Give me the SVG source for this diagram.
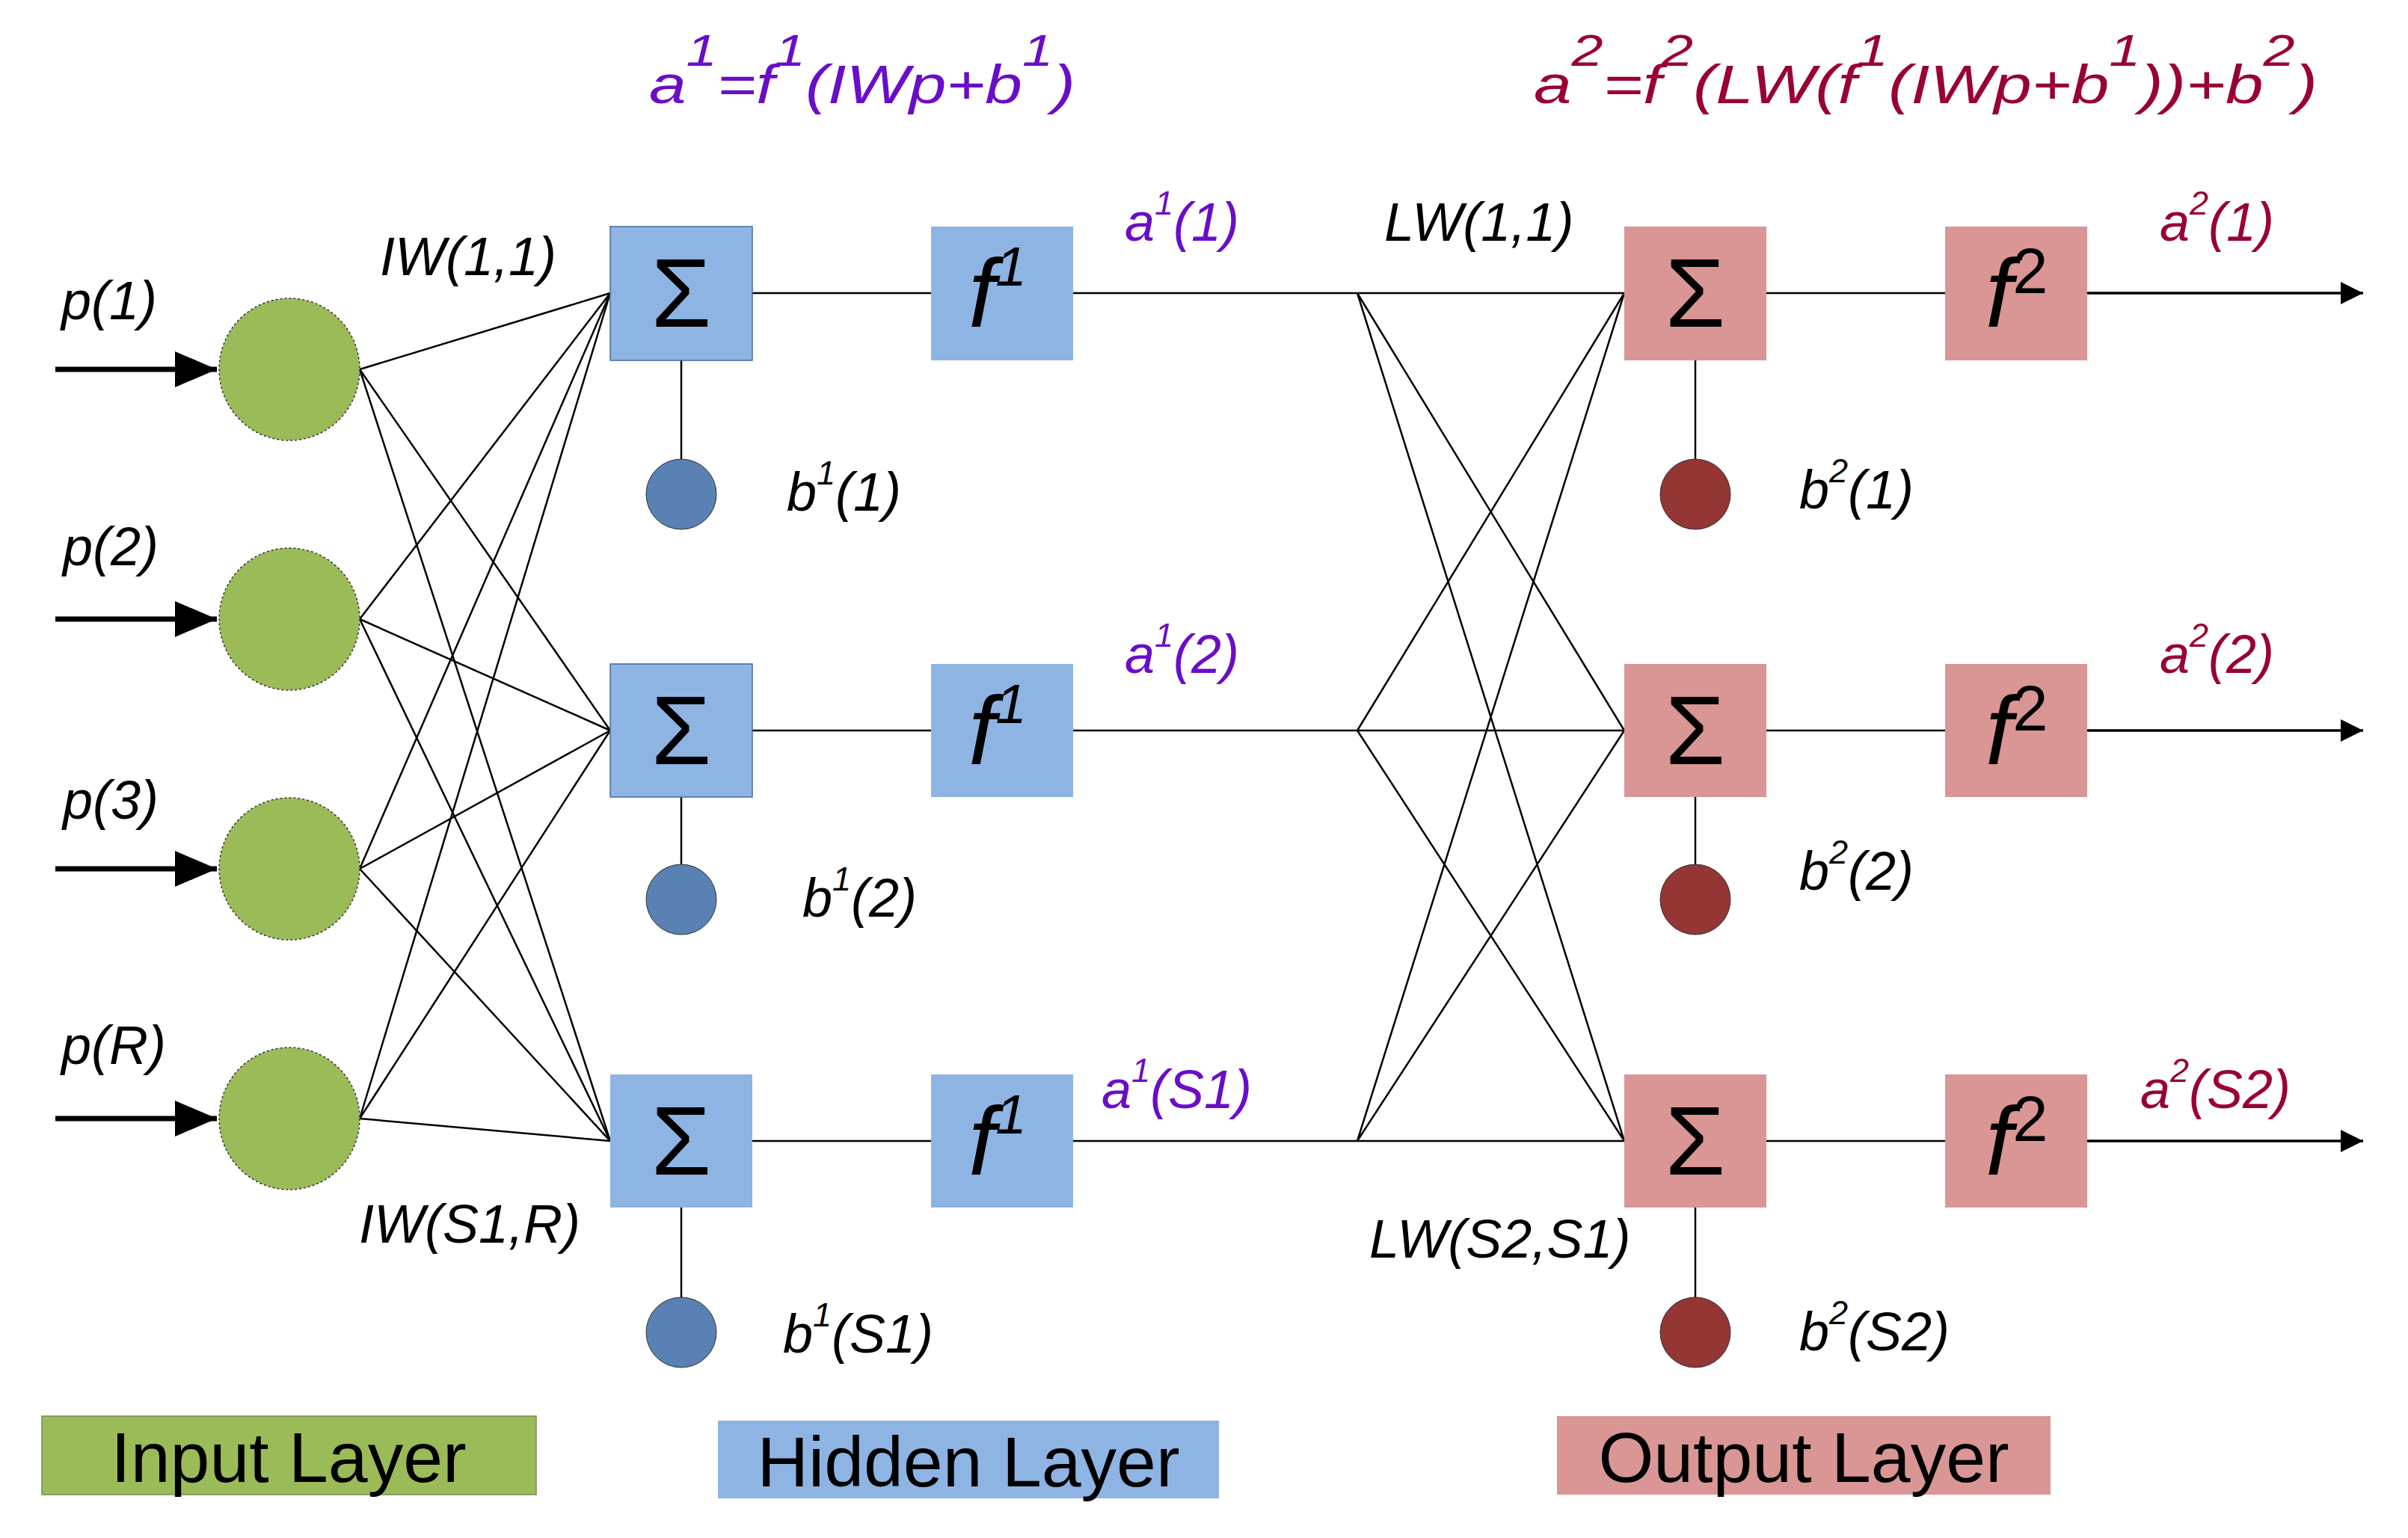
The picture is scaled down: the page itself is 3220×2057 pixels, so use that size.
<svg xmlns="http://www.w3.org/2000/svg" width="3220" height="2057" viewBox="0 0 3220 2057">
<style>
text{font-family:"Liberation Sans",Arial,sans-serif}
.lbl{font-size:72px;font-style:italic;fill:#000}
.pu{fill:#6a0dc8}
.rd{fill:#990033}
.sig{font-size:130px;text-anchor:middle;fill:#000}
.fx{font-size:130px;font-style:italic;fill:#000}
.leg{font-size:95px;text-anchor:middle;fill:#000}
.w{stroke:#000;stroke-width:2.5;fill:none}
.hb{fill:#8eb4e3}
.ob{fill:#d99694}
.in{fill:#9bbb59;stroke:#333;stroke-width:1.5;stroke-dasharray:3 3}
</style>
<defs>
<marker id="ah" viewBox="0 0 10 10" refX="10" refY="5" markerWidth="9" markerHeight="9" orient="auto" markerUnits="userSpaceOnUse"><path d="M0,0L10,5L0,10z" fill="#000"/></marker>
<marker id="ahb" viewBox="0 0 10 10" refX="10" refY="5" markerWidth="56" markerHeight="48" orient="auto" markerUnits="userSpaceOnUse" preserveAspectRatio="none"><path d="M0,0L10,5L0,10z" fill="#000"/></marker>
<marker id="ahs" viewBox="0 0 10 10" refX="10" refY="5" markerWidth="30" markerHeight="30" orient="auto" markerUnits="userSpaceOnUse"><path d="M0,0L10,5L0,10z" fill="#000"/></marker>
</defs>
<g id="connectors">
<path d="M74 494H290M74 828H290M74 1162H290M74 1496H290" style="stroke:#000;stroke-width:7;fill:none"/>
<line x1="230" y1="494" x2="290" y2="494" stroke="#000" stroke-width="1" marker-end="url(#ahb)"/>
<line x1="230" y1="828" x2="290" y2="828" stroke="#000" stroke-width="1" marker-end="url(#ahb)"/>
<line x1="230" y1="1162" x2="290" y2="1162" stroke="#000" stroke-width="1" marker-end="url(#ahb)"/>
<line x1="230" y1="1496" x2="290" y2="1496" stroke="#000" stroke-width="1" marker-end="url(#ahb)"/>
<g class="w">
<path d="M481 494L816 392M481 494L816 977M481 494L816 1526"/>
<path d="M481 828L816 392M481 828L816 977M481 828L816 1526"/>
<path d="M481 1162L816 392M481 1162L816 977M481 1162L816 1526"/>
<path d="M481 1496L816 392M481 1496L816 977M481 1496L816 1526"/>
<path d="M1006 392H1245M1006 977H1245M1006 1526H1245"/>
<path d="M1435 392H2172M1435 977H2172M1435 1526H2172"/>
<path d="M1815 392L2172 977M1815 392L2172 1526M1815 977L2172 392M1815 977L2172 1526M1815 1526L2172 392M1815 1526L2172 977"/>
<path d="M911 482V614M911 1066V1156M911 1615V1735"/>
<path d="M2267 482V614M2267 1066V1156M2267 1615V1735"/>
<path d="M2362 392H2601M2362 977H2601M2362 1526H2601"/>
</g>
<line x1="2791" y1="392" x2="3160" y2="392" style="stroke:#000;stroke-width:3.5" marker-end="url(#ahs)"/>
<line x1="2791" y1="977" x2="3160" y2="977" style="stroke:#000;stroke-width:3.5" marker-end="url(#ahs)"/>
<line x1="2791" y1="1526" x2="3160" y2="1526" style="stroke:#000;stroke-width:3.5" marker-end="url(#ahs)"/>
</g>
<g id="inputs">
<ellipse class="in" cx="387" cy="494" rx="94" ry="95"/>
<ellipse class="in" cx="387" cy="828" rx="94" ry="95"/>
<ellipse class="in" cx="387" cy="1162" rx="94" ry="95"/>
<ellipse class="in" cx="387" cy="1496" rx="94" ry="95"/>
<text class="lbl" x="82" y="427">p(1)</text>
<text class="lbl" x="84" y="756">p(2)</text>
<text class="lbl" x="84" y="1095">p(3)</text>
<text class="lbl" x="82" y="1423">p(R)</text>
<text class="lbl" x="508" y="368">IW(1,1)</text>
<text class="lbl" x="480" y="1662">IW(S1,R)</text>
</g>
<g id="hidden">
<rect class="hb" x="816" y="303" width="190" height="179" stroke="#4a6a9a" stroke-width="1.5"/>
<rect class="hb" x="816" y="888" width="190" height="178" stroke="#4a6a9a" stroke-width="1.5"/>
<rect class="hb" x="816" y="1437" width="190" height="178"/>
<rect class="hb" x="1245" y="303" width="190" height="179"/>
<rect class="hb" x="1245" y="888" width="190" height="178"/>
<rect class="hb" x="1245" y="1437" width="190" height="178"/>
<text class="sig" x="911" y="437">Σ</text><text class="sig" x="911" y="1022">Σ</text><text class="sig" x="911" y="1571">Σ</text>
<text class="fx" x="1295" y="437">f<tspan font-size="75" dy="-55">1</tspan></text>
<text class="fx" x="1295" y="1022">f<tspan font-size="75" dy="-55">1</tspan></text>
<text class="fx" x="1295" y="1571">f<tspan font-size="75" dy="-55">1</tspan></text>
<ellipse cx="911" cy="661" rx="47" ry="47" fill="#5981b3" stroke="#333" stroke-width="1"/>
<ellipse cx="911" cy="1203" rx="47" ry="47" fill="#5981b3" stroke="#333" stroke-width="1"/>
<ellipse cx="911" cy="1782" rx="47" ry="47" fill="#5981b3" stroke="#333" stroke-width="1"/>
<text class="lbl" x="1052" y="683">b<tspan font-size="45" dy="-35">1</tspan><tspan dy="35">(1)</tspan></text>
<text class="lbl" x="1073" y="1226">b<tspan font-size="45" dy="-35">1</tspan><tspan dy="35">(2)</tspan></text>
<text class="lbl" x="1047" y="1809">b<tspan font-size="45" dy="-35">1</tspan><tspan dy="35">(S1)</tspan></text>
<text class="lbl pu" x="1504" y="322">a<tspan font-size="45" dy="-35">1</tspan><tspan dy="35">(1)</tspan></text>
<text class="lbl pu" x="1504" y="900">a<tspan font-size="45" dy="-35">1</tspan><tspan dy="35">(2)</tspan></text>
<text class="lbl pu" x="1473" y="1482">a<tspan font-size="45" dy="-35">1</tspan><tspan dy="35">(S1)</tspan></text>
<text class="lbl pu" x="868" y="138" font-size="108" textLength="570" lengthAdjust="spacingAndGlyphs">a<tspan font-size="60" dy="-50">1</tspan><tspan dy="50">=f</tspan><tspan font-size="60" dy="-50">1</tspan><tspan dy="50">(IWp+b</tspan><tspan font-size="60" dy="-50">1</tspan><tspan dy="50">)</tspan></text>
</g>
<g id="output">
<rect class="ob" x="2172" y="303" width="190" height="179"/>
<rect class="ob" x="2172" y="888" width="190" height="178"/>
<rect class="ob" x="2172" y="1437" width="190" height="178"/>
<rect class="ob" x="2601" y="303" width="190" height="179"/>
<rect class="ob" x="2601" y="888" width="190" height="178"/>
<rect class="ob" x="2601" y="1437" width="190" height="178"/>
<text class="sig" x="2267" y="437">Σ</text><text class="sig" x="2267" y="1022">Σ</text><text class="sig" x="2267" y="1571">Σ</text>
<text class="fx" x="2655" y="437">f<tspan font-size="85" dy="-45" font-style="normal">2</tspan></text>
<text class="fx" x="2655" y="1022">f<tspan font-size="85" dy="-45" font-style="normal">2</tspan></text>
<text class="fx" x="2655" y="1571">f<tspan font-size="85" dy="-45" font-style="normal">2</tspan></text>
<ellipse cx="2267" cy="661" rx="47" ry="47" fill="#943634" stroke="#333" stroke-width="1"/>
<ellipse cx="2267" cy="1203" rx="47" ry="47" fill="#943634" stroke="#333" stroke-width="1"/>
<ellipse cx="2267" cy="1782" rx="47" ry="47" fill="#943634" stroke="#333" stroke-width="1"/>
<text class="lbl" x="2406" y="680">b<tspan font-size="45" dy="-35">2</tspan><tspan dy="35">(1)</tspan></text>
<text class="lbl" x="2406" y="1190">b<tspan font-size="45" dy="-35">2</tspan><tspan dy="35">(2)</tspan></text>
<text class="lbl" x="2406" y="1806">b<tspan font-size="45" dy="-35">2</tspan><tspan dy="35">(S2)</tspan></text>
<text class="lbl rd" x="2888" y="322">a<tspan font-size="45" dy="-35">2</tspan><tspan dy="35">(1)</tspan></text>
<text class="lbl rd" x="2888" y="900">a<tspan font-size="45" dy="-35">2</tspan><tspan dy="35">(2)</tspan></text>
<text class="lbl rd" x="2862" y="1482">a<tspan font-size="45" dy="-35">2</tspan><tspan dy="35">(S2)</tspan></text>
<text class="lbl" x="1851" y="322">LW(1,1)</text>
<text class="lbl" x="1831" y="1682">LW(S2,S1)</text>
<text class="lbl rd" x="2051" y="138" font-size="108" textLength="1048" lengthAdjust="spacingAndGlyphs">a<tspan font-size="60" dy="-50">2</tspan><tspan dy="50">=f</tspan><tspan font-size="60" dy="-50">2</tspan><tspan dy="50">(LW(f</tspan><tspan font-size="60" dy="-50">1</tspan><tspan dy="50">(IWp+b</tspan><tspan font-size="60" dy="-50">1</tspan><tspan dy="50">))+b</tspan><tspan font-size="60" dy="-50">2</tspan><tspan dy="50">)</tspan></text>
</g>
<g id="legend">
<rect x="56" y="1894" width="661" height="105" fill="#9bbb59" stroke="#7a8a50" stroke-width="1.5"/>
<text class="leg" x="386" y="1982">Input Layer</text>
<rect x="960" y="1900" width="670" height="104" fill="#8eb4e3"/>
<text class="leg" x="1295" y="1988">Hidden Layer</text>
<rect x="2082" y="1894" width="660" height="105" fill="#d99694"/>
<text class="leg" x="2412" y="1982">Output Layer</text>
</g>
</svg>
